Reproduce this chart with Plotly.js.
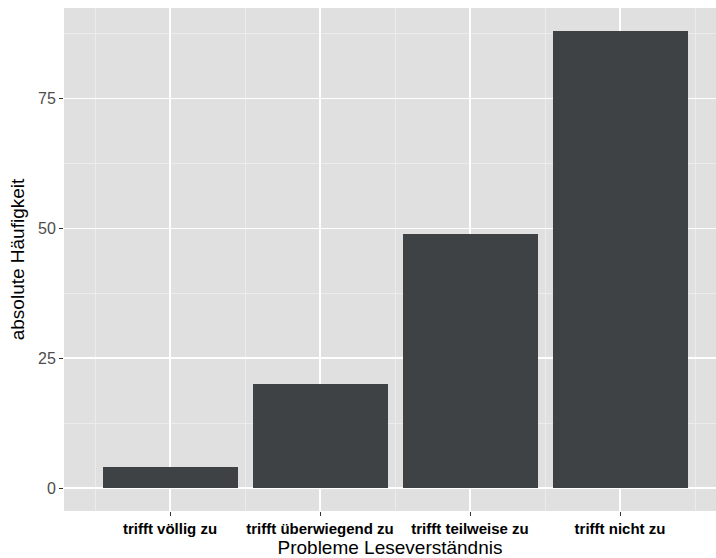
<!DOCTYPE html>
<html>
<head>
<meta charset="utf-8">
<script src="https://cdn.plot.ly/plotly-3.0.1.min.js"></script>
<style>html,body{margin:0;padding:0;background:#fff;}</style>
</head>
<body>
<div id="chart" style="width:716px;height:558px;"></div>
<script>
const categories = ["trifft völlig zu", "trifft überwiegend zu", "trifft teilweise zu", "trifft nicht zu"];
const counts = [4, 20, 49, 88];
const yTicks = [0, 25, 50, 75];

const positions = categories.map((c, i) => i);

const data = [{
  type: "bar",
  x: positions,
  y: counts,
  width: 0.9,
  marker: {color: "#3e4245", line: {width: 0}},
  hoverinfo: "skip"
}];

const layout = {
  width: 716,
  height: 558,
  margin: {l: 64, r: 0, t: 8, b: 47},
  paper_bgcolor: "#ffffff",
  plot_bgcolor: "#e0e0e0",
  font: {family: "Liberation Sans, Arial, sans-serif"},
  showlegend: false,
  bargap: 0,
  xaxis: {
    type: "linear",
    range: [-0.707, 3.64],
    tickmode: "array",
    tickvals: positions,
    ticktext: categories,
    tickfont: {size: 15, color: "#000000", weight: "bold"},
    ticks: "outside",
    ticklen: 4,
    tickwidth: 1,
    tickcolor: "#333333",
    showgrid: true,
    gridcolor: "#ffffff",
    gridwidth: 1.6,
    minor: {tick0: 0.5, dtick: 1, showgrid: true, gridcolor: "#ececec", gridwidth: 1, ticks: ""},
    zeroline: false,
    showline: false,
    fixedrange: true,
    title: {text: "Probleme Leseverständnis", font: {size: 19, color: "#000000"}, standoff: 2}
  },
  yaxis: {
    range: [-4.4, 92.4],
    tickmode: "array",
    tickvals: yTicks,
    ticktext: yTicks.map(String),
    tickfont: {size: 16, color: "#4d4d4d"},
    ticks: "outside",
    ticklen: 4,
    tickwidth: 1,
    tickcolor: "#333333",
    showgrid: true,
    gridcolor: "#ffffff",
    gridwidth: 1.6,
    minor: {tick0: 12.5, dtick: 25, showgrid: true, gridcolor: "#ececec", gridwidth: 1, ticks: ""},
    zeroline: false,
    showline: false,
    fixedrange: true,
    title: {text: "absolute Häufigkeit", font: {size: 19, color: "#000000"}, standoff: 8}
  }
};

Plotly.newPlot("chart", data, layout, {displayModeBar: false, staticPlot: true});
</script>
</body>
</html>
